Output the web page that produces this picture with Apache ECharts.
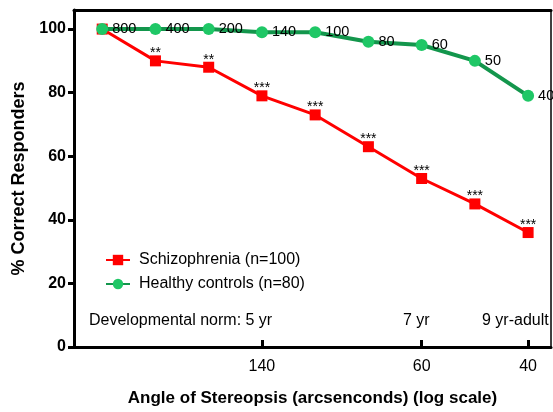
<!DOCTYPE html>
<html>
<head>
<meta charset="utf-8">
<script src="https://cdn.jsdelivr.net/npm/echarts@6/dist/echarts.min.js"></script>
<style>
html,body{margin:0;padding:0;background:#fff;}
#chart{width:553px;height:412px;}
</style>
</head>
<body>
<div id="chart"></div>
<script>
// ---- data ----
const stereoAngles = ['800', '400', '200', '140', '100', '80', '60', '50', '40'];
const schizophrenia = [100, 90, 88, 79, 73, 63, 53, 45, 36];
const healthyControls = [100, 100, 100, 99, 99, 96, 95, 90, 79];
const significance = ['', '**', '**', '***', '***', '***', '***', '***', '***'];
const xTickIndices = [3, 6, 8];
const yTicks = [0, 20, 40, 60, 80, 100];
const seriesNames = ['Schizophrenia (n=100)', 'Healthy controls (n=80)'];
const normLabels = ['Developmental norm: 5 yr', '7 yr', '9 yr-adult'];

const FONT = "'Liberation Sans', Arial, sans-serif";
const chart = echarts.init(document.getElementById('chart'), null, {renderer: 'canvas'});

const schData = schizophrenia.map((v, i) => [i, v]);
const hcData = healthyControls.map((v, i) => [i, v]);

const option = {
  backgroundColor: '#fff',
  animation: false,
  textStyle: {fontFamily: FONT},
  grid: {left: 74, right: 2, top: 10, bottom: 62.5},
  legend: {
    orient: 'vertical', left: 100, top: 247,
    itemWidth: 24, itemHeight: 13, itemGap: 8,
    textStyle: {fontSize: 16, color: '#000', fontFamily: FONT, padding: [0, 0, 0, 4]},
    data: seriesNames
  },
  xAxis: [{
    type: 'value', min: -0.53, max: 8.43,
    axisLine: {show: true, onZero: false, lineStyle: {color: '#000', width: 3}},
    axisTick: {show: true, inside: true, length: 7, customValues: xTickIndices, lineStyle: {color: '#000', width: 3}},
    axisLabel: {customValues: xTickIndices, formatter: v => stereoAngles[Math.round(v)], fontSize: 16, color: '#000', margin: 12, fontFamily: FONT},
    splitLine: {show: false},
    name: 'Angle of Stereopsis (arcsenconds) (log scale)',
    nameLocation: 'middle', nameGap: 43,
    nameTextStyle: {fontSize: 17, fontWeight: 'bold', color: '#000', fontFamily: FONT}
  }, {
    type: 'value', position: 'top', min: -0.53, max: 8.43,
    axisLine: {show: true, onZero: false, lineStyle: {color: '#000', width: 3}},
    axisTick: {show: false}, axisLabel: {show: false}, splitLine: {show: false}
  }],
  yAxis: [{
    type: 'value', min: 0, max: 106,
    axisLine: {show: true, onZero: false, lineStyle: {color: '#000', width: 3}},
    axisTick: {show: true, length: 6, customValues: yTicks, lineStyle: {color: '#000', width: 3}},
    axisLabel: {customValues: yTicks, fontSize: 16, fontWeight: 'bold', color: '#000', margin: 8, fontFamily: FONT},
    splitLine: {show: false},
    name: '% Correct Responders',
    nameLocation: 'middle', nameGap: 40, nameRotate: 90,
    nameTextStyle: {fontSize: 18, fontWeight: 'bold', color: '#000', fontFamily: FONT}
  }, {
    type: 'value', position: 'right', min: 0, max: 106,
    axisLine: {show: true, onZero: false, lineStyle: {color: '#000', width: 1.5}},
    axisTick: {show: false}, axisLabel: {show: false}, splitLine: {show: false}
  }],
  series: [{
    name: seriesNames[0], type: 'line', data: schData,
    symbol: 'rect', symbolSize: 11,
    lineStyle: {color: '#ff0000', width: 3},
    itemStyle: {color: '#ff0000'},
    label: {
      show: true, position: 'top', distance: 0, offset: [0, 5],
      formatter: p => significance[p.dataIndex],
      fontSize: 14, color: '#000', fontFamily: FONT
    },
    z: 2
  }, {
    name: seriesNames[1], type: 'line', data: hcData,
    symbol: 'circle', symbolSize: 12,
    lineStyle: {color: '#13964c', width: 4},
    itemStyle: {color: '#1fc766'},
    label: {
      show: true, position: 'right', distance: 4,
      formatter: p => stereoAngles[p.dataIndex],
      fontSize: 14.5, color: '#000', fontFamily: FONT
    },
    z: 3
  }],
  graphic: [
    {type: 'text', left: 89, top: 313, style: {text: normLabels[0], font: '16px ' + FONT, fill: '#000'}},
    {type: 'text', left: 403, top: 313, style: {text: normLabels[1], font: '16px ' + FONT, fill: '#000'}},
    {type: 'text', left: 482, top: 313, style: {text: normLabels[2], font: '16px ' + FONT, fill: '#000'}}
  ]
};
chart.setOption(option);
</script>
</body>
</html>
